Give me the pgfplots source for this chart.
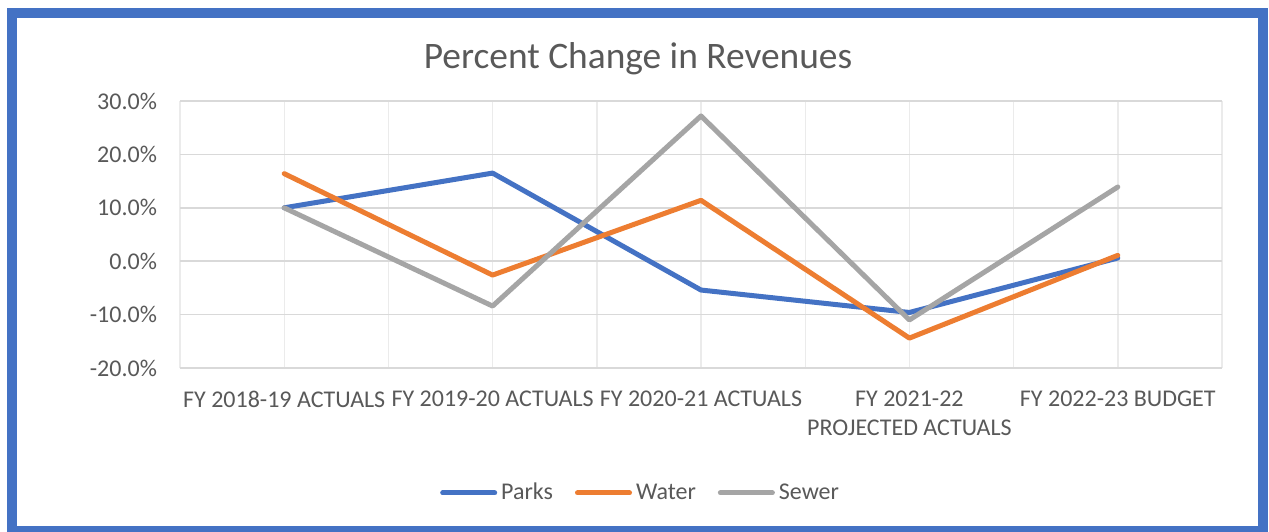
\documentclass[border=0pt]{standalone}
\usepackage{pgfplots}
\pgfplotsset{compat=1.18}
\usepackage{fontspec}
\setmainfont{Carlito}
\definecolor{parks}{HTML}{4472C4}
\definecolor{water}{HTML}{ED7D31}
\definecolor{sewer}{HTML}{A5A5A5}
\definecolor{txt}{HTML}{595959}
\definecolor{gridc}{HTML}{D9D9D9}
\definecolor{gridx}{HTML}{EBEBEB}
\begin{document}
\begin{tikzpicture}
\useasboundingbox (0,0) rectangle (634.5pt,265.5pt);
\fill[white] (0,0) rectangle (634.5pt,265.5pt);
\draw[parks,line width=5pt] (6pt,0pt) rectangle (631.5pt,259pt);
\node[txt,font=\fontsize{18.7}{21}\selectfont] at (319pt,236pt) {Percent Change in Revenues};
\begin{axis}[
scale only axis,width=521pt,height=133.5pt,
anchor=south west,at={(90pt,81.5pt)},
xmin=-0.5,xmax=4.5,ymin=-20,ymax=30,
xtick={0,...,4},minor xtick={-0.5,0.5,...,4.5},
ytick={-20,-10,...,30},
xticklabels={FY 2018-19 ACTUALS,FY 2019-20 ACTUALS,FY 2020-21 ACTUALS,FY 2021-22\\PROJECTED ACTUALS,FY 2022-23 BUDGET},
xmajorgrids,xminorgrids,ymajorgrids,
major x grid style={draw=gridx,line width=0.7pt},
minor x grid style={draw=gridx,line width=0.7pt},
major y grid style={draw=gridc,line width=0.8pt},
major tick length=0pt,minor tick length=0pt,
axis line style={draw=none},
tick label style={txt,font=\fontsize{12}{14.5}\selectfont},
xticklabel style={align=center,yshift=-8pt},
yticklabel style={xshift=-8pt},
/pgf/number format/assume math mode=true,
yticklabel={\pgfmathprintnumber[fixed,fixed zerofill,precision=1]{\tick}\%},
legend columns=3,
legend style={at={(0.443,-0.468)},anchor=center,draw=none,fill=none,
  font=\fontsize{12}{14}\selectfont,text=txt,
  /tikz/every even column/.append style={column sep=9pt}},
legend image code/.code={\draw[#1,line width=2.5pt,line cap=round] (0pt,0pt) -- (26pt,0pt);},
line join=round,
]
\addplot[parks,line width=2.5pt,line cap=round] coordinates {(0,10.0) (1,16.5) (2,-5.4) (3,-9.6) (4,0.6)};
\addplot[water,line width=2.5pt,line cap=round] coordinates {(0,16.4) (1,-2.6) (2,11.4) (3,-14.4) (4,1.1)};
\addplot[sewer,line width=2.5pt,line cap=round] coordinates {(0,10.0) (1,-8.4) (2,27.2) (3,-11.0) (4,13.9)};
\legend{Parks,Water,Sewer}
\end{axis}
\end{tikzpicture}
\end{document}
